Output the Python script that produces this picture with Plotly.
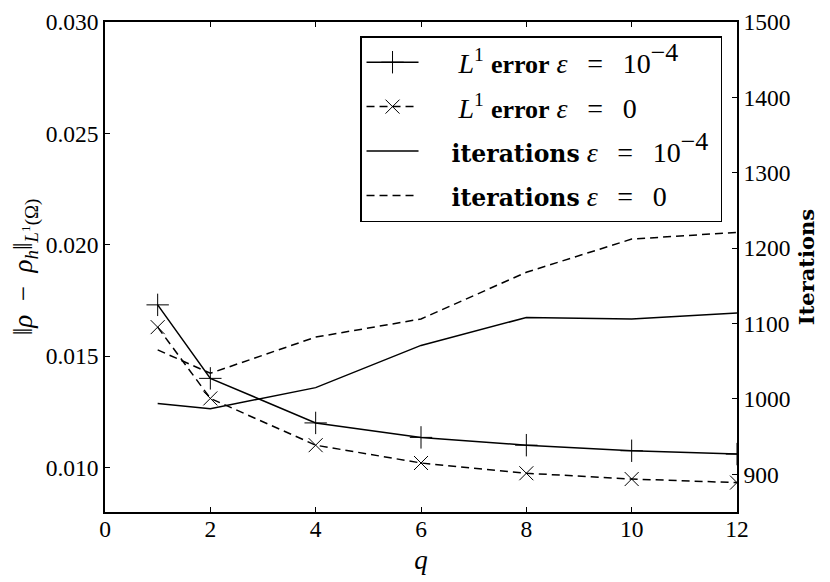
import plotly.graph_objects as go

q = [1, 2, 4, 6, 8, 10, 12]
err_eps = [0.0173, 0.0140, 0.0120, 0.01135, 0.0110, 0.01075, 0.0106]
err_zero = [0.0163, 0.0131, 0.0110, 0.0102, 0.00974, 0.00948, 0.00932]
iter_eps = [994, 987, 1015, 1071, 1108, 1106, 1114]
iter_zero = [1065, 1034, 1082, 1106, 1168, 1212, 1221]

BOLD_ERR = "<span style='font-family:Liberation Serif;font-size:26px'><b>error</b></span>"
BOLD_IT = "<span style='font-family:DejaVu Serif;font-size:23.5px'><b>iterations</b></span>"
EQ = " <i>ε</i>\u2002\u2009=\u2002\u2009"
EXP = "10<sup><span style='font-size:26px'>−4</span></sup>"
names = [
    "\u00a0" * 5 + "<i>L</i><sup>1</sup> " + BOLD_ERR + EQ + EXP + "\u00a0",
    "\u00a0" * 5 + "<i>L</i><sup>1</sup> " + BOLD_ERR + EQ + "0" + "\u00a0",
    "\u00a0" * 4 + BOLD_IT + EQ + EXP + "\u00a0",
    "\u00a0" * 4 + BOLD_IT + EQ + "0" + "\u00a0",
]

FONT = "Liberation Serif"
BLACK = "#000000"
DASH = "8px,5px"

fig = go.Figure()
fig.add_trace(go.Scatter(
    x=q, y=err_eps, name=names[0], mode="lines+markers", legendgroup="a",
    line=dict(color=BLACK, width=1.5),
    marker=dict(symbol="cross-thin-open", size=16, color=BLACK, line=dict(color=BLACK, width=1)),
    yaxis="y"))
fig.add_trace(go.Scatter(
    x=q, y=err_zero, name=names[1], mode="lines+markers", legendgroup="b",
    line=dict(color=BLACK, width=1.5, dash=DASH),
    marker=dict(symbol="x-thin-open", size=14, color=BLACK, line=dict(color=BLACK, width=1)),
    yaxis="y"))
fig.add_trace(go.Scatter(
    x=q, y=iter_eps, name=names[2], mode="lines", legendgroup="c",
    line=dict(color=BLACK, width=1.5),
    yaxis="y2"))
fig.add_trace(go.Scatter(
    x=q, y=iter_zero, name=names[3], mode="lines", legendgroup="d",
    line=dict(color=BLACK, width=1.5, dash=DASH),
    yaxis="y2"))

axis_common = dict(
    showgrid=False, zeroline=False, showline=True, linecolor=BLACK, linewidth=1.5,
    ticks="inside", ticklen=5, tickwidth=1, tickcolor=BLACK, automargin=False,
    tickfont=dict(family=FONT, size=23.5, color=BLACK),
)

fig.update_layout(
    width=822, height=574,
    margin=dict(l=97, r=93, t=14, b=70),
    paper_bgcolor="white", plot_bgcolor="white",
    font=dict(family=FONT, size=25, color=BLACK),
    showlegend=True,
    legend=dict(
        x=0.9763, y=0.9714, xanchor="right", yanchor="top",
        bordercolor=BLACK, borderwidth=1.5, bgcolor="white",
        font=dict(family=FONT, size=28, color=BLACK),
        itemwidth=52, tracegroupgap=5,
    ),
    xaxis=dict(
        range=[0, 12], tick0=0, dtick=2, mirror="ticks", ticklabelstandoff=-5,
        title=dict(text="<i>q</i>", font=dict(family=FONT, size=27), standoff=9),
        **axis_common),
    yaxis=dict(
        range=[0.008, 0.030], tick0=0.010, dtick=0.005, tickformat=".3f",
        title=dict(text="‖<i>ρ</i>\u2002−\u2002<i>ρ</i><sub><i>h</i></sub>‖<sub><i>L</i><sup>1</sup>(Ω)</sub>",
                   font=dict(family=FONT, size=27), standoff=10),
        **axis_common),
    yaxis2=dict(
        range=[850, 1500], tick0=900, dtick=100, overlaying="y", side="right",
        title=dict(text="<b>Iterations</b>", font=dict(family="DejaVu Serif", size=21), standoff=10),
        **axis_common),
)

fig.write_html("out.html")
